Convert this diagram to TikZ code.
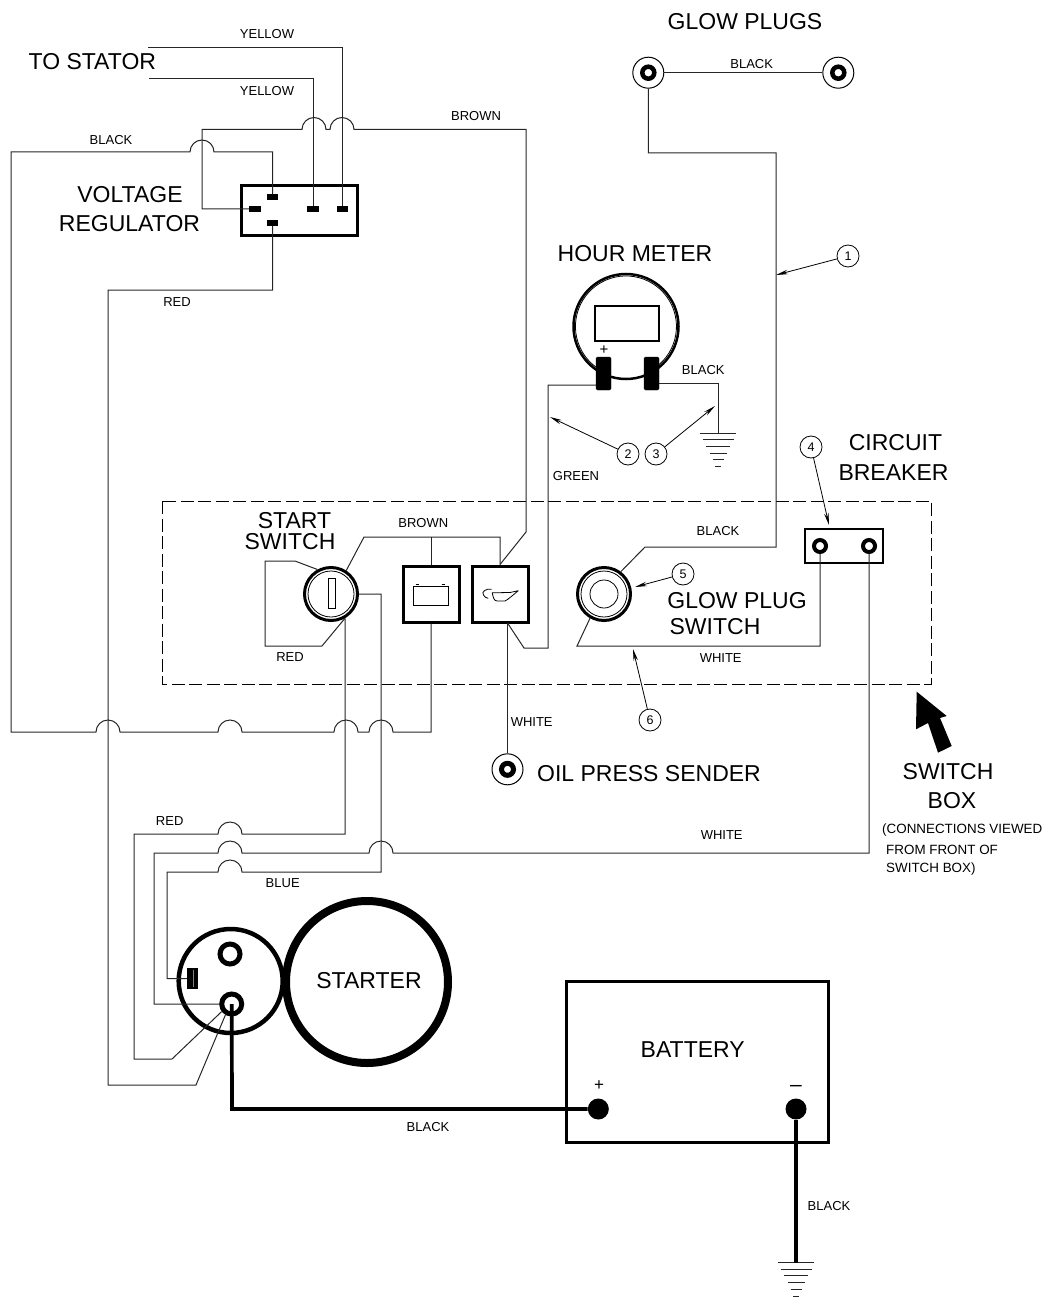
\documentclass[tikz,border=0pt]{standalone}
\usepackage{fontspec}
\setmainfont{Liberation Sans}
\usetikzlibrary{arrows.meta}
\newcommand{\hopfwd}{arc (180:0:12)}
\newcommand{\hopback}{arc (0:180:12)}
\tikzset{
  wire/.style={line width=1pt,black!85},
  heavywire/.style={line width=3.7pt,black},
  smalltext/.style={inner sep=0pt,font=\fontsize{13}{15}\selectfont},
  notetext/.style={inner sep=0pt,anchor=west,font=\fontsize{13.4}{15}\selectfont},
  bigtext/.style={inner sep=0pt,font=\fontsize{23}{26}\selectfont},
  terminal/.style={draw=none,fill=black,minimum width=11.5pt,minimum height=6pt,inner sep=0pt},
  postblock/.style={draw,fill=black,rounded corners=1.5pt,minimum width=15pt,minimum height=33pt,inner sep=0pt},
  ringpost/.style={circle,draw,line width=5pt,minimum size=17pt,inner sep=0pt},
  outerpost/.style={circle,draw,line width=1pt,minimum size=31pt,inner sep=0pt},
  paneldial/.style={circle,draw,line width=3pt,minimum size=53pt,inner sep=0pt},
  lampbox/.style={draw,line width=3pt,minimum size=56pt,inner sep=0pt},
  callout/.style={circle,draw,line width=0.8pt,minimum size=22pt,inner sep=0pt,font=\fontsize{12.5}{14}\selectfont},
  leader/.style={line width=0.8pt,-{Stealth[length=12pt,width=4.5pt]}},
  gndsym/.pic={
    \foreach \k/\w in {0/18,1/15.5,2/12,3/8.5,4/5.5,5/3}
      \draw[line width=1pt,black!85] (-\w,-6.7*\k) -- (\w,-6.7*\k);
  }
}
\begin{document}
\begin{tikzpicture}[x=1pt,y=1pt]
  \useasboundingbox (0,0) rectangle (1046,-1297);

  \node[draw,line width=3pt,minimum width=116pt,minimum height=50pt,inner sep=0pt] (regbox) at (299,-210.5) {};
  \node[terminal] (tRegT) at (272.5,-197.5) {};
  \node[terminal] (tRegL) at (255,-209) {};
  \node[terminal] (tRegB) at (272.5,-223) {};
  \node[terminal] (tRegY) at (313,-209) {};
  \node[terminal] (tRegZ) at (342.5,-209) {};
  \coordinate (statorA) at (148,-47.5);
  \coordinate (statorB) at (149,-79);

  \node[circle,draw,line width=2.5pt,minimum size=105pt,inner sep=0pt] (hourmeter) at (626,-326.5) {};
  \draw[line width=0.8pt] (651.2,-370.2) arc (-60:240:50.5);
  \node[draw,line width=2pt,minimum width=64pt,minimum height=35pt,inner sep=0pt] (hourwin) at (627,-323.5) {};
  \node[postblock] (tHourA) at (603.5,-373.5) {};
  \node[postblock] (tHourB) at (651.5,-373.5) {};
  \coordinate (greenEnd) at (596,-385);
  \coordinate (blackEnd) at (659,-383);
  \coordinate (gndHour) at (718,-433);
  \pic at (gndHour) {gndsym};

  \node[outerpost] (gpA) at (648.3,-72.7) {};
  \node[ringpost,minimum size=12pt,line width=4.5pt] (gpAin) at (648.3,-72.7) {};
  \node[outerpost] (gpB) at (838.3,-72.7) {};
  \node[ringpost,minimum size=12pt,line width=4.5pt] (gpBin) at (838.3,-72.7) {};

  \draw[dashed,dash pattern=on 13pt off 4.5pt,line width=0.8pt] (162,-501) rectangle (931,-684);

  \node[paneldial] (startsw) at (331,-594) {};
  \node[circle,draw,line width=0.8pt,minimum size=46pt,inner sep=0pt] (startin) at (331,-594) {};
  \node[draw,line width=0.8pt,minimum width=7pt,minimum height=30pt,inner sep=0pt] (startslot) at (332,-593) {};
  \node[lampbox] (batlamp) at (431,-594) {};
  \node[lampbox] (oillamp) at (500,-594) {};
  \draw[line width=0.8pt] (413,-586) rectangle (448,-605);
  \draw[line width=0.8pt] (415.7,-584.3) -- (419.3,-584.3) (441.7,-584.3) -- (445.3,-584.3);
  \draw[line width=0.8pt] (518.3,-590.7) -- (510,-592.5) -- (492.3,-592.8) .. controls (493,-597) and (494,-601) .. (497,-601) -- (505,-601) .. controls (509,-599) and (514,-594) .. (518.3,-590.7);
  \draw[line width=0.8pt] (491.7,-589.3) .. controls (486,-588) and (481,-592) .. (483.5,-595) .. controls (484.5,-597) and (486,-598) .. (488.3,-598.3);
  \coordinate (oilBottom) at (507.5,-623);

  \node[paneldial] (glowsw) at (604,-594) {};
  \node[circle,draw,line width=0.8pt,minimum size=46pt,inner sep=0pt] (glowmid) at (604,-594) {};
  \node[circle,draw,line width=0.8pt,minimum size=28pt,inner sep=0pt] (glowin) at (604,-594) {};

  \node[draw,line width=2pt,minimum width=78pt,minimum height=34pt,inner sep=0pt] (breaker) at (843.5,-545.5) {};
  \node[ringpost,minimum size=12pt,line width=4pt] (tCBa) at (820,-546) {};
  \node[ringpost,minimum size=12pt,line width=4pt] (tCBb) at (869,-546) {};

  \node[outerpost] (sender) at (507.5,-769.3) {};
  \node[ringpost,minimum size=12pt,line width=5pt] (senderin) at (507.5,-769.3) {};

  \node[circle,draw,line width=4.5pt,minimum size=104pt,inner sep=0pt] (solenoid) at (230.7,-981) {};
  \node[circle,draw,line width=8pt,minimum size=162pt,inner sep=0pt] (starter) at (367,-982) {};
  \node[ringpost,minimum size=20pt] (solA) at (230,-954) {};
  \node[ringpost,minimum size=20pt] (solB) at (231.7,-1004) {};
  \node[draw=none,fill=black,minimum width=11pt,minimum height=21pt,inner sep=0pt] (soltab) at (192.5,-978.5) {};
  \draw[line width=0.5pt,black!50] (193,-970) -- (193,-987);

  \node[draw,line width=3pt,minimum width=262pt,minimum height=161pt,inner sep=0pt] (battery) at (697,-1062) {};
  \node[circle,fill=black,minimum size=21pt,inner sep=0pt] (batPlus) at (598.3,-1109) {};
  \node[circle,fill=black,minimum size=21pt,inner sep=0pt] (batMinus) at (796,-1109) {};
  \coordinate (gndBat) at (796,-1262.5);
  \pic at (gndBat) {gndsym};

  \draw[wire] (statorA) -| (tRegZ.north);
  \draw[wire] (statorB) -| (tRegY.north);
  \draw[wire] (tRegL.west) -- (202,-209) -- (202,-129.5) -- (302,-129.5) \hopfwd -- (330,-129.5) \hopfwd -- (526,-129.5) -- (526,-532) -- (oillamp.north);
  \draw[wire] (tRegT.north) -- (272.5,-152) -- (214,-152) \hopback -- (11,-152) -- (11,-732) -- (96,-732) \hopfwd -- (218,-732) \hopfwd -- (334,-732) \hopfwd -- (369,-732) \hopfwd -- (431,-732) -- (batlamp.south);
  \draw[wire] (tRegB.south) -- (272.5,-290) -- (108,-290) -- (108,-1085) -- (196,-1085) -- (solB.240);
  \draw[wire] (startsw.-60) |- (242,-834) \hopback -- (134,-834) -- (134,-1059) -- (172,-1059) -- (solB.217);
  \draw[wire] (startsw.east) -- (381,-594) -- (381,-872) -- (242,-872) \hopback -- (167,-872) -- (167,-978.5) -- (soltab.west);
  \draw[wire] (tCBb.south) -- (869,-853) -- (393,-853) \hopback -- (242,-853) \hopback -- (154,-853) -- (154,-1004) -- (solB.west);
  \draw[wire] (startsw.119) -- (295,-561) -- (265,-561) -- (265,-646) -- (322,-646) -- (startsw.-60);
  \draw[wire] (startsw.57) -- (364,-537) -- (500,-537) -- (oillamp.north);
  \draw[wire] (431,-537) -- (batlamp.north);
  \draw[wire] (greenEnd) -- (548,-385) -- (548,-648) -- (524,-648) -- (oilBottom);
  \draw[wire] (oilBottom) -- (sender.north);
  \draw[wire] (blackEnd) -- (718,-383) -- (gndHour);
  \draw[wire] (gpA.east) -- (gpB.west);
  \draw[wire] (gpA.south) -- (648.3,-153) -- (776,-153) -- (776,-547) -- (645,-547) -- (glowsw.53);
  \draw[wire] (glowsw.240) -- (577,-646) -- (820,-646) -- (tCBa.south);
  \draw[heavywire] (solB.center) -- (232,-1109) -- (batPlus);
  \draw[heavywire] (batMinus) -- (gndBat);

  \node[callout] (numA) at (848,-256) {1};
  \node[callout] (numB) at (628,-454) {2};
  \node[callout] (numC) at (656,-454) {3};
  \node[callout] (numD) at (811,-447) {4};
  \node[callout] (numE) at (683,-574) {5};
  \node[callout] (numF) at (650,-720) {6};
  \coordinate (tipA) at (776,-275);
  \coordinate (tipB) at (550,-417);
  \coordinate (tipC) at (715,-406);
  \coordinate (tipD) at (829,-525);
  \coordinate (tipE) at (635,-587);
  \coordinate (tipF) at (633,-649);
  \draw[leader] (numA) -- (tipA);
  \draw[leader] (numB) -- (tipB);
  \draw[leader] (numC) -- (tipC);
  \draw[leader] (numD) -- (tipD);
  \draw[leader] (numE) -- (tipE);
  \draw[leader] (numF) -- (tipF);

  \fill (916.7,-691.7) -- (946.7,-716) -- (940,-718) -- (951.7,-746) -- (938,-752.7) -- (928,-723) -- (916,-729.3) -- cycle;

  \node[smalltext] (lblYelA) at (267,-34.5) {YELLOW};
  \node[smalltext] (lblYelB) at (267,-91.5) {YELLOW};
  \node[smalltext] (lblBrnA) at (476,-116.5) {BROWN};
  \node[smalltext] (lblBlkA) at (111,-140.5) {BLACK};
  \node[smalltext] (lblRedA) at (177,-302) {RED};
  \node[smalltext] (lblBlkB) at (751.7,-64) {BLACK};
  \node[smalltext] (lblBlkC) at (703.3,-369.8) {BLACK};
  \node[smalltext] (lblGrn) at (576,-476) {GREEN};
  \node[smalltext] (lblBrnB) at (423.3,-522.8) {BROWN};
  \node[smalltext] (lblBlkD) at (718,-531) {BLACK};
  \node[smalltext] (lblRedB) at (290,-657) {RED};
  \node[smalltext] (lblWhtA) at (720.7,-658.5) {WHITE};
  \node[smalltext] (lblWhtB) at (531.7,-722) {WHITE};
  \node[smalltext] (lblWhtC) at (721.7,-835) {WHITE};
  \node[smalltext] (lblRedC) at (169.7,-821) {RED};
  \node[smalltext] (lblBlue) at (282.7,-883.5) {BLUE};
  \node[smalltext] (lblBlkE) at (428,-1127) {BLACK};
  \node[smalltext] (lblBlkF) at (829,-1206) {BLACK};
  \node[notetext] (noteA) at (882,-830) {(CONNECTIONS VIEWED};
  \node[notetext] (noteB) at (886,-849.5) {FROM FRONT OF};
  \node[notetext] (noteC) at (886,-869) {SWITCH BOX)};

  \node[bigtext] (lblGlow) at (745,-22) {GLOW PLUGS};
  \node[bigtext] (lblStator) at (92.3,-62) {TO STATOR};
  \node[bigtext] (lblVoltA) at (130,-195) {VOLTAGE};
  \node[bigtext] (lblVoltB) at (129.5,-224) {REGULATOR};
  \node[bigtext] (lblHour) at (635,-254) {HOUR METER};
  \node[bigtext] (lblCircA) at (895.5,-442.5) {CIRCUIT};
  \node[bigtext] (lblCircB) at (893.5,-472.5) {BREAKER};
  \node[bigtext] (lblStartA) at (294.5,-520.5) {START};
  \node[bigtext] (lblStartB) at (290,-542) {SWITCH};
  \node[bigtext] (lblGpA) at (737,-601) {GLOW PLUG};
  \node[bigtext] (lblGpB) at (715,-627) {SWITCH};
  \node[bigtext] (lblOil) at (649,-774) {OIL PRESS SENDER};
  \node[bigtext] (lblBoxA) at (948,-771.5) {SWITCH};
  \node[bigtext] (lblBoxB) at (952,-800.5) {BOX};
  \node[bigtext] (lblStarter) at (369,-981) {STARTER};
  \node[bigtext] (lblBattery) at (692.7,-1049.3) {BATTERY};
  \node[inner sep=0pt,font=\fontsize{15}{17}\selectfont] (hourPlus) at (604,-350) {+};
  \node[inner sep=0pt,font=\fontsize{17}{19}\selectfont] (signPlus) at (599,-1085.5) {+};
  \node[inner sep=0pt,font=\fontsize{21}{23}\selectfont] (signMinus) at (796,-1088) {–};
\end{tikzpicture}
\end{document}
